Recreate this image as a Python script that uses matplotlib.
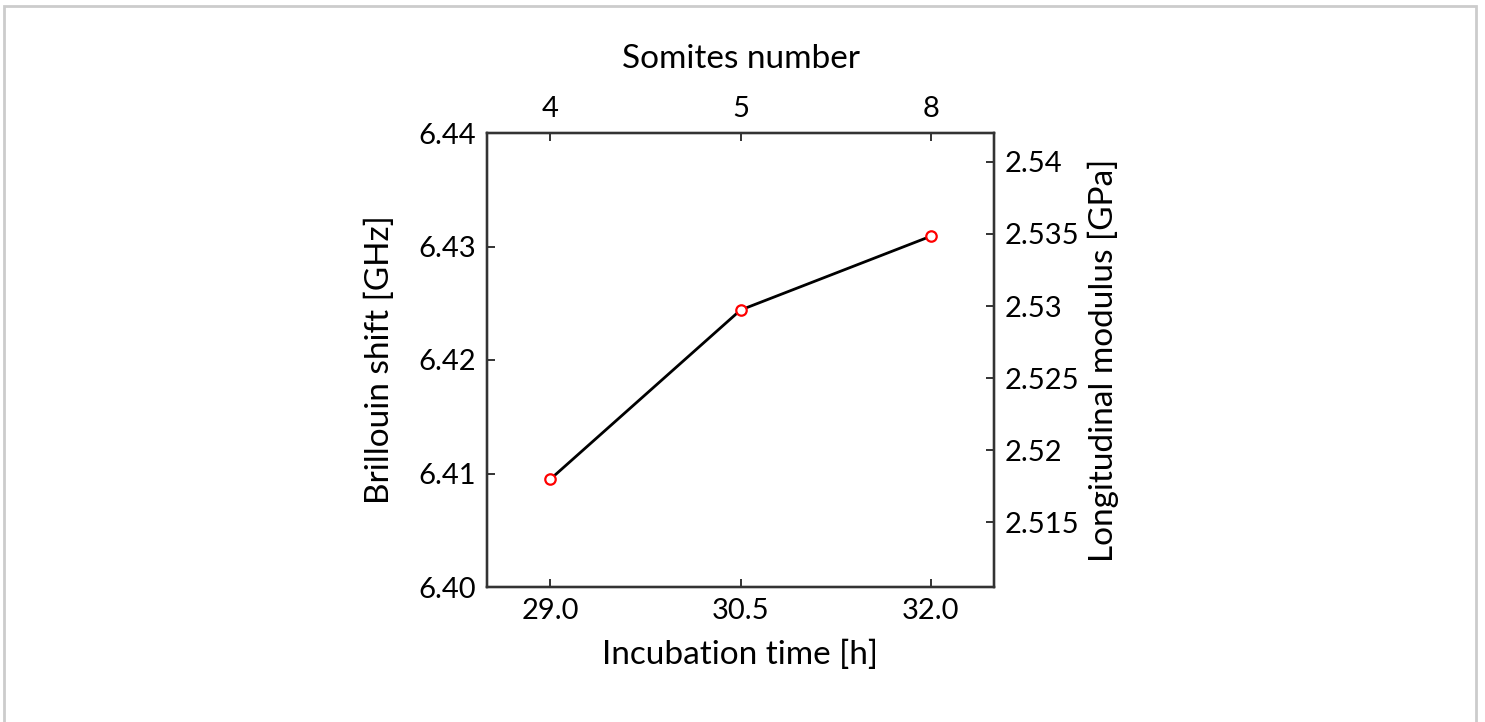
import numpy as np
import matplotlib.pyplot as plt
from matplotlib.patches import Rectangle

# Data
incubation_time = [29.0, 30.5, 32.0]
brillouin_shift = [6.4095, 6.4244, 6.4309]
somites_labels = ["4", "5", "8"]

left_ticks = [6.40, 6.41, 6.42, 6.43, 6.44]
right_ticks = [2.515, 2.52, 2.525, 2.53, 2.535, 2.54]
right_tick_labels = ["2.515", "2.52", "2.525", "2.53", "2.535", "2.54"]

# modulus scales with shift squared
k_mod = 2.542 / 6.44**2

plt.rcParams['font.family'] = ['Lato', 'DejaVu Sans']
fs = 21
lfs = 24
spine_c = "#333333"

fig = plt.figure(figsize=(14.85, 7.22), dpi=100)
fig.patches.append(Rectangle((4 / 1485, -0.1), 1472 / 1485, 1.1 - 6 / 722,
                             transform=fig.transFigure, fill=False,
                             edgecolor="#cccccc", linewidth=2))

ax = fig.add_axes([487 / 1485, 1 - 587 / 722, 507 / 1485, 454 / 722])
ax.plot(incubation_time, brillouin_shift, color="black", lw=2, zorder=2)
ax.plot(incubation_time, brillouin_shift, 'o', ms=7.5, mfc="white",
        mec="red", mew=1.6, zorder=3)

ax.set_xlim(28.5, 32.5)
ax.set_ylim(6.40, 6.44)
ax.set_xticks(incubation_time)
ax.set_xticklabels(["%.1f" % t for t in incubation_time])
ax.set_yticks(left_ticks)
ax.set_yticklabels(["%.2f" % v for v in left_ticks])
ax.set_xlabel("Incubation time [h]", fontsize=lfs, labelpad=11)
ax.set_ylabel("Brillouin shift [GHz]", fontsize=lfs, labelpad=17)

# top axis: somites
axt = ax.twiny()
axt.set_xlim(ax.get_xlim())
axt.set_xticks(incubation_time)
axt.set_xticklabels(somites_labels)
axt.set_xlabel("Somites number", fontsize=lfs, labelpad=20)

# right axis: longitudinal modulus
axr = ax.twinx()
axr.set_ylim(k_mod * 6.40**2, k_mod * 6.44**2)
axr.set_yticks(right_ticks)
axr.set_yticklabels(right_tick_labels)
axr.set_ylabel("Longitudinal modulus [GPa]", fontsize=lfs, labelpad=6)

for a in (ax, axt, axr):
    for s in a.spines.values():
        s.set_color(spine_c)
        s.set_linewidth(1.6)
    a.tick_params(direction="in", length=6, width=1.4, color=spine_c,
                  labelsize=fs, pad=8)

fig.savefig("out.png", dpi=100)
